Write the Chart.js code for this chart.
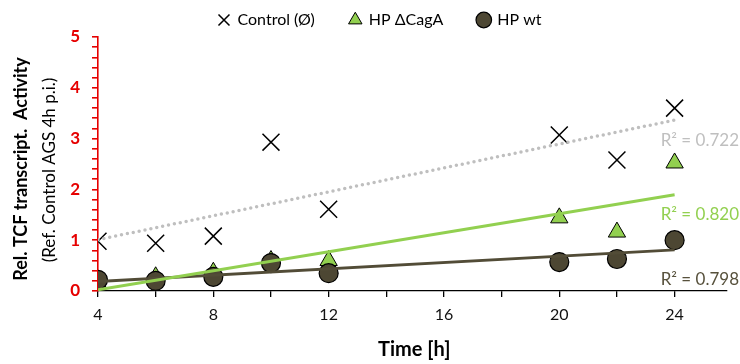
<!DOCTYPE html>
<html>
<head>
<meta charset="utf-8">
<script src="https://cdn.jsdelivr.net/npm/chart.js@4/dist/chart.umd.min.js"></script>
<style>
  html, body { margin: 0; padding: 0; background: #fff; }
  #wrap { width: 740px; height: 364px; }
</style>
</head>
<body>
<div id="wrap"><canvas id="tcfChart"></canvas></div>
<script>
// values
var hours = [4, 6, 8, 10, 12, 20, 22, 24];
var control = [0.98, 0.94, 1.08, 2.93, 1.61, 3.07, 2.58, 3.60];
var cagA = [0.15, 0.28, 0.37, 0.60, 0.60, 1.44, 1.16, 2.52];
var wt = [0.22, 0.20, 0.28, 0.55, 0.35, 0.57, 0.63, 1.00];
var seriesNames = ["Control (\u00D8)", "HP \u0394CagA", "HP wt"];
var r2Labels = ["R\u00B2 = 0.722", "R\u00B2 = 0.820", "R\u00B2 = 0.798"];
var xTickLabels = [4, 8, 12, 16, 20, 24];
var yTickLabels = [0, 1, 2, 3, 4, 5];

var FONT = "Lato, 'Open Sans', sans-serif";
var colGreen = "#92D050";
var colOlive = "#4D4733";
var colOliveLine = "#524C37";
var colGrey = "#BFBFBF";
var colRed = "#E60000";

function pts(ys) {
    return hours.map(function (h, i) { return { x: h, y: ys[i] }; });
}

// linear least squares trendline over the measured points
function trend(ys) {
    var n = hours.length, mx = 0, my = 0, sxx = 0, sxy = 0;
    for (var i = 0; i < n; i++) { mx += hours[i] / n; my += ys[i] / n; }
    for (var j = 0; j < n; j++) {
        sxx += (hours[j] - mx) * (hours[j] - mx);
        sxy += (hours[j] - mx) * (ys[j] - my);
    }
    var b = sxy / sxx, a = my - b * mx;
    var x0 = hours[0], x1 = hours[n - 1];
    return [{ x: x0, y: a + b * x0 }, { x: x1, y: a + b * x1 }];
}

var LEFT_PAD = 20;

// axis titles + R² labels
var textPlugin = {
    id: "textPlugin",
    afterDraw: function (chart) {
        var ctx = chart.ctx;
        var ca = chart.chartArea;
        ctx.save();
        ctx.textAlign = "center";
        ctx.textBaseline = "middle";
        ctx.fillStyle = "#000";
        ctx.save();
        ctx.translate(21, 169);
        ctx.rotate(-Math.PI / 2);
        ctx.font = "bold 18px " + FONT;
        ctx.fillText("Rel. TCF transcript.  Activity", 0, 0);
        ctx.restore();
        ctx.save();
        ctx.translate(50, 170);
        ctx.rotate(-Math.PI / 2);
        ctx.font = "17px " + FONT;
        ctx.fillText("(Ref. Control AGS 4h p.i.)", 0, 0);
        ctx.restore();
        ctx.font = "bold 20px " + FONT;
        ctx.fillText("Time [h]", ca.left + (ca.right - ca.left) / 2 + 2, 350);

        // R² next to the end of each trendline
        var ys = chart.scales.y;
        var offs = [20, 20, 30];
        var cols = [colGrey, colGreen, "#57513C"];
        ctx.font = "17px " + FONT;
        ctx.textAlign = "right";
        for (var k = 0; k < 3; k++) {
            var end = chart.data.datasets[3 + k].data[1];
            ctx.fillStyle = cols[k];
            ctx.fillText(r2Labels[k], chart.width - 1, ys.getPixelForValue(end.y) + offs[k]);
        }
        ctx.restore();
    }
};

function isNear(v, list) {
    for (var i = 0; i < list.length; i++) {
        if (Math.abs(v - list[i]) < 1e-6) return list[i];
    }
    return null;
}

var ctx = document.getElementById("tcfChart").getContext("2d");
new Chart(ctx, {
    type: "scatter",
    data: {
        datasets: [
            {
                label: seriesNames[0],
                data: pts(control),
                pointStyle: "crossRot",
                pointRadius: 12,
                pointHoverRadius: 12,
                borderColor: "#000",
                backgroundColor: "#000",
                borderWidth: 1.5,
                order: 3
            },
            {
                label: seriesNames[1],
                data: pts(cagA),
                pointStyle: "triangle",
                pointRadius: 10,
                pointHoverRadius: 10,
                borderColor: "#000",
                backgroundColor: colGreen,
                borderWidth: 1,
                order: 2
            },
            {
                label: seriesNames[2],
                data: pts(wt),
                pointStyle: "circle",
                pointRadius: 9.5,
                pointHoverRadius: 9.5,
                borderColor: "#000",
                backgroundColor: colOlive,
                borderWidth: 1.2,
                order: 1
            },
            {
                label: "trend control",
                type: "line",
                data: trend(control),
                showLine: true,
                pointRadius: 0,
                borderColor: colGrey,
                borderWidth: 3.5,
                borderDash: [0, 6],
                borderCapStyle: "round",
                order: 0
            },
            {
                label: "trend cagA",
                type: "line",
                data: trend(cagA),
                showLine: true,
                pointRadius: 0,
                borderColor: colGreen,
                borderWidth: 3,
                order: 0
            },
            {
                label: "trend wt",
                type: "line",
                data: trend(wt),
                showLine: true,
                pointRadius: 0,
                borderColor: colOliveLine,
                borderWidth: 3,
                order: 0
            }
        ]
    },
    options: {
        responsive: true,
        maintainAspectRatio: false,
        animation: false,
        layout: { padding: { left: LEFT_PAD, top: -23, right: 0, bottom: 0 } },
        plugins: {
            tooltip: { enabled: false },
            legend: {
                position: "top",
                maxHeight: 60,
                labels: {
                    usePointStyle: true,
                    boxWidth: 11,
                    boxHeight: 11,
                    padding: 35,
                    color: "#000",
                    font: { family: FONT, size: 16 },
                    filter: function (item) { return item.datasetIndex < 3; },
                    sort: function (a, b) { return a.datasetIndex - b.datasetIndex; }
                }
            }
        },
        scales: {
            x: {
                type: "linear",
                min: 4,
                max: 25.8,
                afterFit: function (scale) { scale.height = 73; },
                ticks: {
                    stepSize: 2,
                    includeBounds: false,
                    maxTicksLimit: 50,
                    autoSkip: false,
                    maxRotation: 0,
                    padding: 8,
                    color: "#111",
                    font: { family: FONT, size: 16 },
                    callback: function (v) {
                        var m = isNear(v, xTickLabels);
                        return m === null ? "" : String(m);
                    }
                },
                grid: { drawOnChartArea: false, color: "#000", tickLength: 6, lineWidth: 1.3 },
                border: { color: "#000", width: 1.3 }
            },
            y: {
                min: 0,
                max: 5,
                afterFit: function (scale) { scale.width = 98 - LEFT_PAD; },
                ticks: {
                    stepSize: 0.2,
                    maxTicksLimit: 50,
                    autoSkip: false,
                    padding: 12,
                    color: colRed,
                    font: { family: FONT, size: 17, weight: "bold" },
                    callback: function (v) {
                        var m = isNear(v, yTickLabels);
                        return m === null ? "" : String(m);
                    }
                },
                grid: { drawOnChartArea: false, color: colRed, tickLength: 6, lineWidth: 1.6 },
                border: { color: colRed, width: 1.6 }
            }
        }
    },
    plugins: [textPlugin]
});
</script>
</body>
</html>
